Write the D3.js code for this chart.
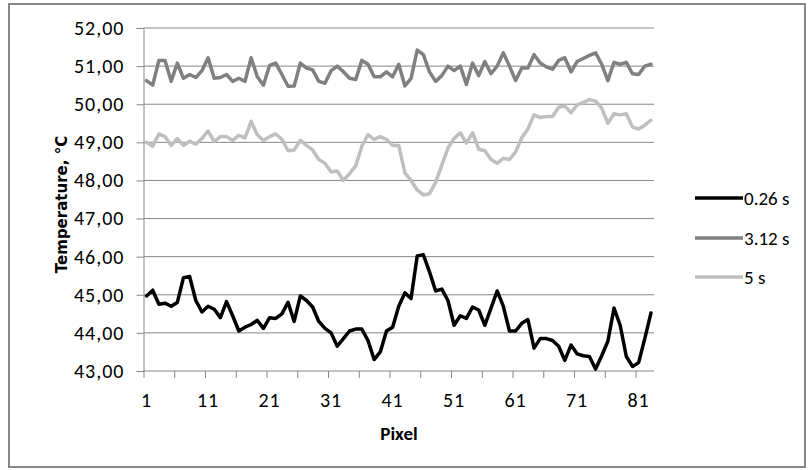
<!DOCTYPE html>
<html>
<head>
<meta charset="utf-8">
<script src="https://cdn.jsdelivr.net/npm/d3@7"></script>
<style>
  html, body { margin: 0; padding: 0; background: #fff; }
  svg { display: block; font-family: Carlito, Calibri, "Open Sans", "Noto Sans", sans-serif; }
</style>
</head>
<body>
<svg id="chart" width="812" height="470"></svg>
<script>
const pixels = d3.range(1, 84);
const seriesNames = ["0.26 s", "3.12 s", "5 s"];
const seriesColors = ["#000000", "#808080", "#bfbfbf"];

const t026 = [44.97,45.12,44.75,44.78,44.70,44.80,45.45,45.48,44.85,44.55,
  44.70,44.62,44.40,44.82,44.45,44.05,44.15,44.22,44.33,44.12,
  44.40,44.38,44.50,44.80,44.30,44.97,44.85,44.68,44.30,44.12,
  44.00,43.65,43.85,44.05,44.10,44.10,43.80,43.30,43.50,44.05,
  44.15,44.70,45.05,44.90,46.02,46.05,45.60,45.10,45.15,44.85,
  44.20,44.45,44.38,44.68,44.60,44.20,44.65,45.10,44.70,44.05,
  44.05,44.25,44.35,43.60,43.85,43.85,43.80,43.65,43.28,43.68,
  43.45,43.40,43.38,43.05,43.40,43.78,44.65,44.20,43.38,43.12,
  43.22,43.85,44.52];

const t312 = [50.62,50.50,51.15,51.15,50.60,51.08,50.68,50.78,50.70,50.88,
  51.22,50.68,50.70,50.78,50.60,50.68,50.60,51.22,50.72,50.50,
  51.02,51.08,50.78,50.47,50.48,51.08,50.95,50.90,50.60,50.55,
  50.88,51.00,50.85,50.68,50.65,51.15,51.05,50.72,50.72,50.85,
  50.72,51.05,50.48,50.68,51.42,51.30,50.85,50.60,50.75,51.00,
  50.88,51.00,50.52,51.08,50.75,51.12,50.80,51.00,51.35,51.00,
  50.62,50.95,50.95,51.30,51.08,50.98,50.92,51.15,51.22,50.85,
  51.12,51.20,51.28,51.35,51.05,50.62,51.10,51.05,51.10,50.80,
  50.78,51.00,51.05];

const t5 = [49.00,48.90,49.22,49.15,48.92,49.10,48.92,49.03,48.95,49.10,
  49.30,49.02,49.15,49.15,49.05,49.18,49.12,49.55,49.20,49.05,
  49.15,49.22,49.08,48.78,48.80,49.05,48.92,48.80,48.55,48.45,
  48.22,48.25,48.00,48.18,48.38,48.90,49.20,49.08,49.15,49.08,
  48.92,48.92,48.20,48.00,47.75,47.62,47.65,47.95,48.40,48.85,
  49.10,49.25,48.98,49.25,48.82,48.78,48.55,48.45,48.58,48.55,
  48.75,49.12,49.35,49.72,49.65,49.68,49.68,49.92,49.95,49.78,
  49.98,50.05,50.12,50.08,49.90,49.50,49.75,49.72,49.75,49.40,
  49.35,49.45,49.58];

const yTicks = d3.range(43, 53);
const xLabelTicks = [1, 11, 21, 31, 41, 51, 61, 71, 81];

const seriesValues = [t026, t312, t5];

(function () {
const svg = d3.select("#chart");
const pLeft = 143.5, pRight = 654, pTop = 28, pBottom = 371;
const tickFont = "Carlito, Calibri, 'Open Sans', sans-serif";

// outer border
svg.append("rect").attr("x", 9).attr("y", 4).attr("width", 796).attr("height", 463)
  .attr("fill", "#fff").attr("stroke", "#868686").attr("stroke-width", 2);

const x = d3.scaleBand().domain(pixels).range([pLeft, pRight]).padding(0);
const xb = d3.scaleLinear().domain([0, pixels.length]).range([pLeft, pRight]);
const y = d3.scaleLinear().domain([43, 52]).range([pBottom, pTop]);
const fmt = v => d3.format(".2f")(v).replace(".", ",");

// gridlines
svg.append("g").selectAll("line").data(yTicks.slice(1)).join("line")
  .attr("x1", pLeft).attr("x2", pRight)
  .attr("y1", d => y(d)).attr("y2", d => y(d))
  .attr("stroke", "#868686").attr("stroke-width", 1);

// y axis
const yAxis = svg.append("g").attr("transform", `translate(${pLeft},0)`)
  .call(d3.axisLeft(y).tickValues(yTicks).tickFormat(fmt).tickSize(7).tickPadding(12));
yAxis.select(".domain").attr("stroke", "#868686");
yAxis.selectAll(".tick line").attr("stroke", "#868686");
yAxis.selectAll("text").attr("font-size", 20).attr("fill", "#000")
  .attr("letter-spacing", "1px").attr("font-family", tickFont);

// x axis boundary ticks
const xTickAxis = svg.append("g").attr("transform", `translate(0,${pBottom})`)
  .call(d3.axisBottom(xb).tickValues(d3.range(0, 81, 5)).tickSize(7).tickFormat(""));
xTickAxis.select(".domain").remove();
xTickAxis.selectAll(".tick line").attr("stroke", "#868686");
svg.append("line").attr("x1", pLeft).attr("x2", pRight).attr("y1", pBottom).attr("y2", pBottom)
  .attr("stroke", "#868686");

// x labels
const xAxis = svg.append("g").attr("transform", `translate(0,${pBottom})`)
  .call(d3.axisBottom(x).tickValues(xLabelTicks).tickSize(0).tickPadding(22));
xAxis.select(".domain").remove();
xAxis.selectAll("text").attr("font-size", 20).attr("fill", "#000")
  .attr("letter-spacing", "1px").attr("font-family", tickFont);

// lines
const line = vals => d3.line()
  .x((d, i) => x(pixels[i]) + x.bandwidth() / 2)
  .y(d => y(d))(vals);

[2, 1, 0].forEach(k => {
  svg.append("path").attr("d", line(seriesValues[k]))
    .attr("fill", "none").attr("stroke", seriesColors[k])
    .attr("stroke-width", 3.5).attr("stroke-linejoin", "round").attr("stroke-linecap", "round");
});

// axis titles
svg.append("text").attr("x", 399).attr("y", 440).attr("text-anchor", "middle")
  .attr("font-size", 19).attr("font-weight", "bold").text("Pixel");
svg.append("text").attr("transform", "translate(62,204.5) rotate(-90)").attr("text-anchor", "middle")
  .attr("dy", "0.35em")
  .attr("font-family", "'DejaVu Sans', Verdana, sans-serif")
  .attr("font-size", 15).attr("font-weight", "bold").text("Temperature, °C");

// legend
const legendY = [198, 238, 277];
const lg = svg.append("g");
seriesNames.forEach((n, k) => {
  lg.append("line").attr("x1", 695).attr("x2", 743).attr("y1", legendY[k]).attr("y2", legendY[k])
    .attr("stroke", seriesColors[k]).attr("stroke-width", 3.5);
  lg.append("text").attr("x", 744).attr("y", legendY[k]).attr("dy", "0.35em")
    .attr("font-size", 19).text(n);
});
})();
</script>
</body>
</html>
